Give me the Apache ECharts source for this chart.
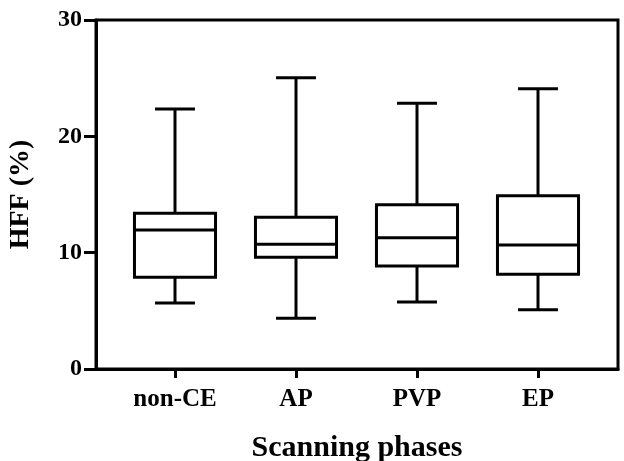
<!DOCTYPE html>
<html>
<head>
<meta charset="utf-8">
<script src="https://cdn.jsdelivr.net/npm/echarts@6/dist/echarts.min.js"></script>
<style>html,body{margin:0;padding:0;background:#fff}#c{width:624px;height:461px}</style>
</head>
<body>
<div id="c"></div>
<script>
var categories = ['non-CE', 'AP', 'PVP', 'EP'];
var lowerWhisker = [5.67, 4.36, 5.76, 5.1];
var q1Values = [7.88, 9.6, 8.85, 8.14];
var medianValues = [11.95, 10.72, 11.29, 10.66];
var q3Values = [13.38, 13.04, 14.12, 14.9];
var upperWhisker = [22.35, 25.04, 22.84, 24.1];
var yTicks = [0, 10, 20, 30];

var FONT = '"Liberation Serif", "Times New Roman", serif';
var boxData = categories.map(function (c, i) {
  return [i, lowerWhisker[i], q1Values[i], medianValues[i], q3Values[i], upperWhisker[i]];
});

var chart = echarts.init(document.getElementById('c'), null, {renderer: 'canvas'});
chart.setOption({
  animation: false,
  backgroundColor: '#fff',
  grid: [
    {left: 96, top: 20, right: 6, bottom: 92, outerBoundsMode: 'none', containLabel: false, show: true, borderColor: '#000', borderWidth: 3, backgroundColor: 'transparent'},
    {left: 114.5, top: 20, right: 25.5, bottom: 92, outerBoundsMode: 'none', containLabel: false}
  ],
  xAxis: [
    {
      type: 'value', gridIndex: 0, min: 0, max: 1,
      axisLine: {show: true, lineStyle: {color: '#000', width: 3}},
      axisTick: {show: false}, axisLabel: {show: false}, splitLine: {show: false},
      name: 'Scanning phases', nameLocation: 'middle', nameGap: 64,
      nameTextStyle: {fontFamily: FONT, fontWeight: 'bold', fontSize: 30, color: '#000', verticalAlign: 'top'}
    },
    {
      type: 'category', gridIndex: 1, data: categories, boundaryGap: true,
      axisLine: {show: false},
      axisTick: {show: true, alignWithLabel: true, length: 9, lineStyle: {color: '#000', width: 3}},
      axisLabel: {fontFamily: FONT, fontWeight: 'bold', fontSize: 25, color: '#000', margin: 18},
      splitLine: {show: false}
    }
  ],
  yAxis: [
    {
      type: 'value', gridIndex: 0, min: 0, max: 30, interval: 10,
      axisLine: {show: true, lineStyle: {color: '#000', width: 3}},
      axisTick: {show: true, length: 12, lineStyle: {color: '#000', width: 3}},
      axisLabel: {fontFamily: FONT, fontWeight: 'bold', fontSize: 24, color: '#000', margin: 14,
        customValues: yTicks},
      splitLine: {show: false},
      name: 'HFF (%)', nameLocation: 'middle', nameGap: 61,
      nameTextStyle: {fontFamily: FONT, fontWeight: 'bold', fontSize: 28, color: '#000'}
    },
    {
      type: 'value', gridIndex: 1, min: 0, max: 30, show: false
    }
  ],
  series: [{
    type: 'custom',
    xAxisIndex: 1, yAxisIndex: 1,
    data: boxData,
    encode: {x: 0, y: [1, 2, 3, 4, 5]},
    renderItem: function (params, api) {
      var x = api.value(0);
      var band = api.size([1, 0])[0];
      var bw = band * 0.67, cw = band * 0.33;
      var pLo = api.coord([x, api.value(1)]);
      var pQ1 = api.coord([x, api.value(2)]);
      var pMd = api.coord([x, api.value(3)]);
      var pQ3 = api.coord([x, api.value(4)]);
      var pHi = api.coord([x, api.value(5)]);
      var cx = pMd[0];
      var st = {stroke: '#000', lineWidth: 3, fill: null};
      return {
        type: 'group',
        children: [
          {type: 'line', shape: {x1: cx, y1: pHi[1], x2: cx, y2: pQ3[1]}, style: st},
          {type: 'line', shape: {x1: cx, y1: pQ1[1], x2: cx, y2: pLo[1]}, style: st},
          {type: 'line', shape: {x1: cx - cw / 2, y1: pHi[1], x2: cx + cw / 2, y2: pHi[1]}, style: st},
          {type: 'line', shape: {x1: cx - cw / 2, y1: pLo[1], x2: cx + cw / 2, y2: pLo[1]}, style: st},
          {type: 'rect', shape: {x: cx - bw / 2, y: pQ3[1], width: bw, height: pQ1[1] - pQ3[1]}, style: {stroke: '#000', lineWidth: 3, fill: '#fff'}},
          {type: 'line', shape: {x1: cx - bw / 2, y1: pMd[1], x2: cx + bw / 2, y2: pMd[1]}, style: st}
        ]
      };
    }
  }]
});
</script>
</body>
</html>
